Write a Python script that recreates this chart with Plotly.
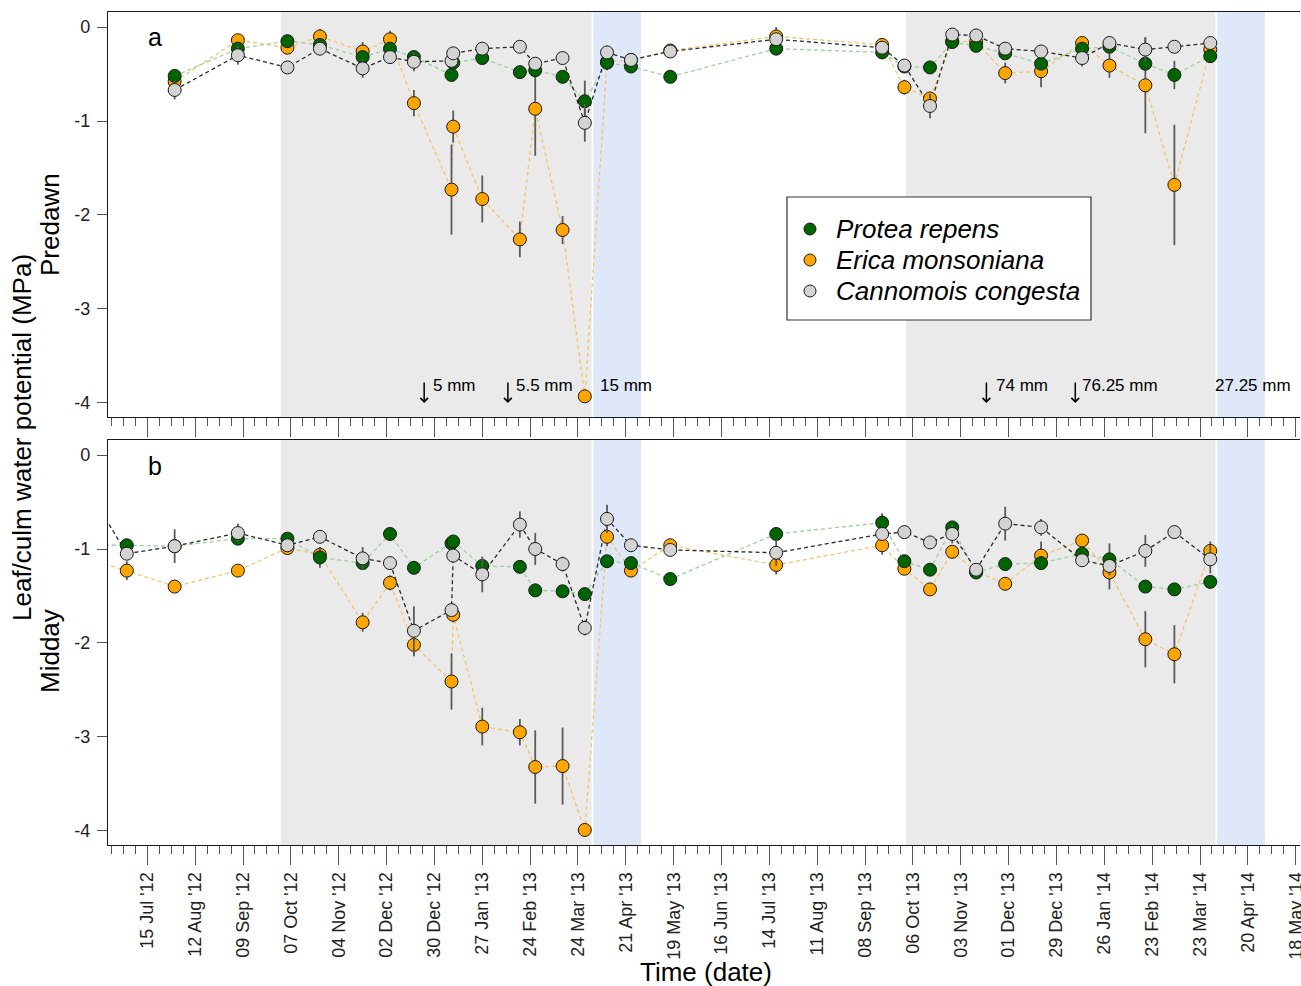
import plotly.graph_objects as go

# ---------------- data ----------------
species = ["Protea repens", "Erica monsoniana", "Cannomois congesta"]

# Predawn leaf/culm water potential (MPa)
predawn_dates = [
    "2012-07-31", "2012-09-06", "2012-10-05", "2012-10-24", "2012-11-18", "2012-12-04",
    "2012-12-18", "2013-01-09", "2013-01-10", "2013-01-27", "2013-02-18", "2013-02-27",
    "2013-03-15", "2013-03-28", "2013-04-10", "2013-04-24", "2013-05-17", "2013-07-18",
    "2013-09-18", "2013-10-01", "2013-10-16", "2013-10-29", "2013-11-12", "2013-11-29",
    "2013-12-20", "2014-01-13", "2014-01-29", "2014-02-19", "2014-03-08", "2014-03-29",
]
predawn_protea = [-0.52, -0.23, -0.15, -0.19, -0.32, -0.23, -0.32, -0.51, -0.38, -0.33,
                  -0.48, -0.46, -0.53, -0.79, -0.38, -0.42, -0.53, -0.23, -0.27, -0.42,
                  -0.43, -0.16, -0.20, -0.28, -0.39, -0.23, -0.21, -0.39, -0.51, -0.31]
predawn_erica = [-0.58, -0.14, -0.22, -0.10, -0.26, -0.13, -0.81, -1.73, -1.06, -1.83,
                 -2.26, -0.87, -2.16, -3.93, -0.37, -0.35, -0.25, -0.10, -0.19, -0.64,
                 -0.76, -0.15, -0.16, -0.49, -0.47, -0.17, -0.41, -0.62, -1.68, -0.24]
predawn_cannomois = [-0.67, -0.30, -0.43, -0.23, -0.44, -0.32, -0.37, -0.36, -0.28, -0.23,
                     -0.21, -0.39, -0.33, -1.02, -0.27, -0.35, -0.26, -0.13, -0.22, -0.41,
                     -0.84, -0.08, -0.09, -0.23, -0.26, -0.33, -0.17, -0.24, -0.21, -0.17]
predawn_protea_se = [0.04, 0.04, 0.06, 0.04, 0.05, 0.05, 0.04, 0.04, 0.04, 0.04,
                     0.04, 0.04, 0.04, 0.22, 0.08, 0.05, 0.03, 0.04, 0.04, 0.03,
                     0.03, 0.04, 0.04, 0.05, 0.04, 0.04, 0.04, 0.05, 0.15, 0.04]
predawn_erica_se = [0.05, 0.04, 0.05, 0.08, 0.10, 0.09, 0.14, 0.48, 0.17, 0.25,
                    0.19, 0.50, 0.15, 0.05, 0.04, 0.04, 0.03, 0.10, 0.05, 0.08,
                    0.05, 0.04, 0.04, 0.11, 0.17, 0.05, 0.13, 0.51, 0.64, 0.05]
predawn_cannomois_se = [0.10, 0.10, 0.04, 0.04, 0.10, 0.04, 0.10, 0.04, 0.04, 0.04,
                        0.04, 0.04, 0.04, 0.20, 0.05, 0.05, 0.03, 0.04, 0.04, 0.03,
                        0.13, 0.03, 0.04, 0.04, 0.04, 0.09, 0.04, 0.13, 0.04, 0.04]

# Midday leaf/culm water potential (MPa); the first sample precedes the plotted period
midday_dates = [
    "2012-06-12", "2012-07-03", "2012-07-31", "2012-09-06", "2012-10-05", "2012-10-24",
    "2012-11-18", "2012-12-04", "2012-12-18", "2013-01-09", "2013-01-10", "2013-01-27",
    "2013-02-18", "2013-02-27", "2013-03-15", "2013-03-28", "2013-04-10", "2013-04-24",
    "2013-05-17", "2013-07-18", "2013-09-18", "2013-10-01", "2013-10-16", "2013-10-29",
    "2013-11-12", "2013-11-29", "2013-12-20", "2014-01-13", "2014-01-29", "2014-02-19",
    "2014-03-08", "2014-03-29",
]
midday_protea = [-0.96, -0.96, -0.97, -0.89, -0.89, -1.09, -1.15, -0.84, -1.20, -0.94,
                 -0.92, -1.18, -1.19, -1.44, -1.45, -1.48, -1.13, -1.15, -1.32, -0.84,
                 -0.72, -1.13, -1.22, -0.77, -1.25, -1.16, -1.15, -1.05, -1.11, -1.40,
                 -1.43, -1.35]
midday_erica = [-1.12, -1.23, -1.40, -1.23, -0.99, -1.06, -1.78, -1.36, -2.02, -2.41,
                -1.70, -2.89, -2.95, -3.32, -3.31, -3.99, -0.87, -1.23, -0.96, -1.17,
                -0.96, -1.21, -1.43, -1.03, -1.24, -1.37, -1.07, -0.91, -1.25, -1.96,
                -2.12, -1.02]
midday_cannomois = [-0.42, -1.05, -0.97, -0.83, -0.96, -0.87, -1.10, -1.15, -1.87, -1.65,
                    -1.07, -1.27, -0.74, -1.00, -1.16, -1.84, -0.68, -0.96, -1.01, -1.04,
                    -0.84, -0.82, -0.93, -0.84, -1.22, -0.73, -0.77, -1.12, -1.18, -1.02,
                    -0.82, -1.11]
midday_protea_se = [0.0, 0.06, 0.04, 0.04, 0.04, 0.11, 0.04, 0.05, 0.04, 0.04,
                    0.04, 0.05, 0.04, 0.04, 0.04, 0.04, 0.05, 0.04, 0.04, 0.05,
                    0.10, 0.04, 0.04, 0.05, 0.04, 0.04, 0.07, 0.04, 0.17, 0.04,
                    0.04, 0.04]
midday_erica_se = [0.0, 0.10, 0.04, 0.04, 0.04, 0.06, 0.10, 0.08, 0.12, 0.30,
                   0.08, 0.20, 0.14, 0.39, 0.41, 0.04, 0.10, 0.06, 0.04, 0.10,
                   0.10, 0.04, 0.04, 0.05, 0.04, 0.07, 0.15, 0.04, 0.18, 0.30,
                   0.31, 0.10]
midday_cannomois_se = [0.0, 0.05, 0.18, 0.10, 0.04, 0.04, 0.12, 0.04, 0.26, 0.04,
                       0.06, 0.19, 0.14, 0.17, 0.08, 0.08, 0.15, 0.06, 0.04, 0.14,
                       0.04, 0.04, 0.04, 0.10, 0.05, 0.18, 0.09, 0.04, 0.05, 0.17,
                       0.04, 0.15]

# Seasons: dry summer (grey) and the first autumn rains (blue)
dry_periods = [("2012-10-01", "2013-04-01"), ("2013-10-02", "2014-04-01")]
wet_periods = [("2013-04-02", "2013-04-30"), ("2014-04-02", "2014-04-30")]

# Rain events
rain_dates = ["2012-12-24", "2013-02-11", "2013-04-01", "2013-11-18", "2014-01-09", "2014-04-01"]
rain_labels = ["5 mm", "5.5 mm", "15 mm", "74 mm", "76.25 mm", "27.25 mm"]
rain_arrow = [True, True, False, True, True, False]
rain_label_shift = [7, 6, 6, 8, 5, -2]

# ---------------- styling ----------------
FONT = "Liberation Sans, Arial, sans-serif"
W, H = 1301, 986
L, R, T, B = 108, 1300, 12, 845          # plot area in pixels
marker_fill = ["#006400", "#FFA500", "#D3D3D3"]
line_col = ["#9fcf9f", "#f5c46a", "#2a2a2a"]
draw_order = [1, 0, 2]                   # Erica, Protea, Cannomois
TITLE_SIZE = 26
TICK_SIZE = 18
NOTE_SIZE = 17


def px(xp):
    return (xp - L) / (R - L)


def py(yp):
    return (B - yp) / (B - T)


panels = [
    # (x axis, y axis, dates, series values, series errors)
    ("x2", "y2", predawn_dates,
     [predawn_protea, predawn_erica, predawn_cannomois],
     [predawn_protea_se, predawn_erica_se, predawn_cannomois_se]),
    ("x", "y", midday_dates,
     [midday_protea, midday_erica, midday_cannomois],
     [midday_protea_se, midday_erica_se, midday_cannomois_se]),
]

fig = go.Figure()

for xa, ya, dates, vals, errs in panels:
    # dashed connecting lines first
    for i in draw_order:
        fig.add_trace(go.Scatter(
            x=dates, y=vals[i], xaxis=xa, yaxis=ya, mode="lines",
            line=dict(color=line_col[i], width=1.3, dash="4px,3px"),
            showlegend=False, hoverinfo="skip"))
    # points with standard-error bars
    for i in draw_order:
        fig.add_trace(go.Scatter(
            x=dates, y=vals[i], xaxis=xa, yaxis=ya, mode="markers",
            name=species[i], showlegend=False,
            marker=dict(size=13, color=marker_fill[i],
                        line=dict(color="#1a1a1a", width=1)),
            error_y=dict(type="data", array=errs[i], visible=True,
                         color="#5a5a5a", thickness=1.8, width=0)))

# Legend key: an overlay axis pair in pixel units over the whole plot area
legend_box = (787, 1091, 197, 320)
legend_rows = [229, 260, 291]
legend_sym_x = 810
legend_text_x = 834
fig.add_trace(go.Scatter(
    x=[legend_sym_x] * 3, y=legend_rows, xaxis="x3", yaxis="y3", mode="markers",
    marker=dict(size=12, color=marker_fill, line=dict(color="#1a1a1a", width=1)),
    showlegend=False, hoverinfo="skip"))

# season shading on both panels
shapes = []
for yref in ["y domain", "y2 domain"]:
    xref = "x" if yref == "y domain" else "x2"
    for a, b in dry_periods:
        shapes.append(dict(type="rect", xref=xref, yref=yref, x0=a, x1=b, y0=0, y1=1,
                           fillcolor="#EAEAEA", line=dict(width=0), layer="below"))
    for a, b in wet_periods:
        shapes.append(dict(type="rect", xref=xref, yref=yref, x0=a, x1=b, y0=0, y1=1,
                           fillcolor="#DEE8F8", line=dict(width=0), layer="below"))
shapes.append(dict(type="rect", xref="x3", yref="y3",
                   x0=legend_box[0], x1=legend_box[1], y0=legend_box[2], y1=legend_box[3],
                   fillcolor="white", line=dict(color="#333", width=1.2), layer="below"))

annotations = []
# rainfall arrows and amounts in the predawn panel
for d, lab, arr, sh in zip(rain_dates, rain_labels, rain_arrow, rain_label_shift):
    if arr:
        annotations.append(dict(x=d, y=-4.0, xref="x2", yref="y2", text="",
                                showarrow=True, ax=0, ay=-22, arrowhead=4,
                                arrowsize=1.0, arrowwidth=1.5, arrowcolor="#000"))
    annotations.append(dict(x=d, y=-3.82, xref="x2", yref="y2", text=lab,
                            showarrow=False, xanchor="left", yanchor="middle",
                            xshift=sh, font=dict(size=NOTE_SIZE, color="#000", family=FONT)))

# legend labels
for i, yy in enumerate(legend_rows):
    annotations.append(dict(x=legend_text_x, y=yy, xref="x3", yref="y3",
                            text=species[i], showarrow=False, xanchor="left",
                            yanchor="middle",
                            font=dict(size=TITLE_SIZE, family=FONT, color="#000",
                                      style="italic")))


def label(xp, yp, text, angle=0, size=TITLE_SIZE):
    return dict(x=px(xp), y=py(yp), xref="paper", yref="paper", text=text,
                textangle=angle, showarrow=False, xanchor="center", yanchor="middle",
                font=dict(size=size, family=FONT, color="#000"))


# panel letters and titles
annotations += [
    label(155, 37, "a", size=25),
    label(155, 466, "b", size=25),
    label(22, 438, "Leaf/culm water potential (MPa)", angle=-90),
    label(50, 225, "Predawn", angle=-90),
    label(50, 651, "Midday", angle=-90),
    label(706, 972, "Time (date)"),
]

DAY = 86400000
xcommon = dict(
    type="date", range=["2012-06-22", "2014-05-20 12:00"],
    tick0="2012-07-15", dtick=28 * DAY, ticks="outside", ticklen=19, tickwidth=1,
    tickcolor="#555", showgrid=False, zeroline=False,
    showline=True, linecolor="#1a1a1a", linewidth=1.2, mirror=True,
    minor=dict(tick0="2012-07-15", dtick=7 * DAY, ticks="outside", ticklen=8,
               tickwidth=1, tickcolor="#555", showgrid=False),
)
ycommon = dict(
    range=[-4.15, 0.16], tickvals=[0, -1, -2, -3, -4], ticktext=["0", "-1", "-2", "-3", "-4"],
    ticks="outside", ticklen=10, tickwidth=1, tickcolor="#555", showgrid=False,
    zeroline=False, showline=True, linecolor="#1a1a1a", linewidth=1.2, mirror=False,
    ticklabelstandoff=3,
    tickfont=dict(size=TICK_SIZE, family=FONT, color="#222"),
)

fig.update_layout(
    width=W, height=H,
    margin=dict(l=L, r=W - R, t=T, b=H - B, autoexpand=False),
    paper_bgcolor="white", plot_bgcolor="rgba(0,0,0,0)",
    font=dict(family=FONT, color="#000"),
    xaxis=dict(**xcommon, anchor="y", tickformat="%d %b '%y", tickangle=-90,
               ticklabeloverflow="allow",
               tickfont=dict(size=TICK_SIZE, family=FONT, color="#222")),
    xaxis2=dict(**xcommon, anchor="y2", matches="x", showticklabels=False),
    yaxis=dict(**ycommon, domain=[0, (B - 440) / (B - T)], anchor="x"),
    yaxis2=dict(**ycommon, domain=[(B - 417) / (B - T), 1], anchor="x2"),
    xaxis3=dict(domain=[0, 1], range=[L, R], anchor="y3", visible=False, fixedrange=True),
    yaxis3=dict(domain=[0, 1], range=[B, T], anchor="x3", visible=False, fixedrange=True),
    shapes=shapes,
    annotations=annotations,
    showlegend=False,
)

fig.write_html("out.html")
